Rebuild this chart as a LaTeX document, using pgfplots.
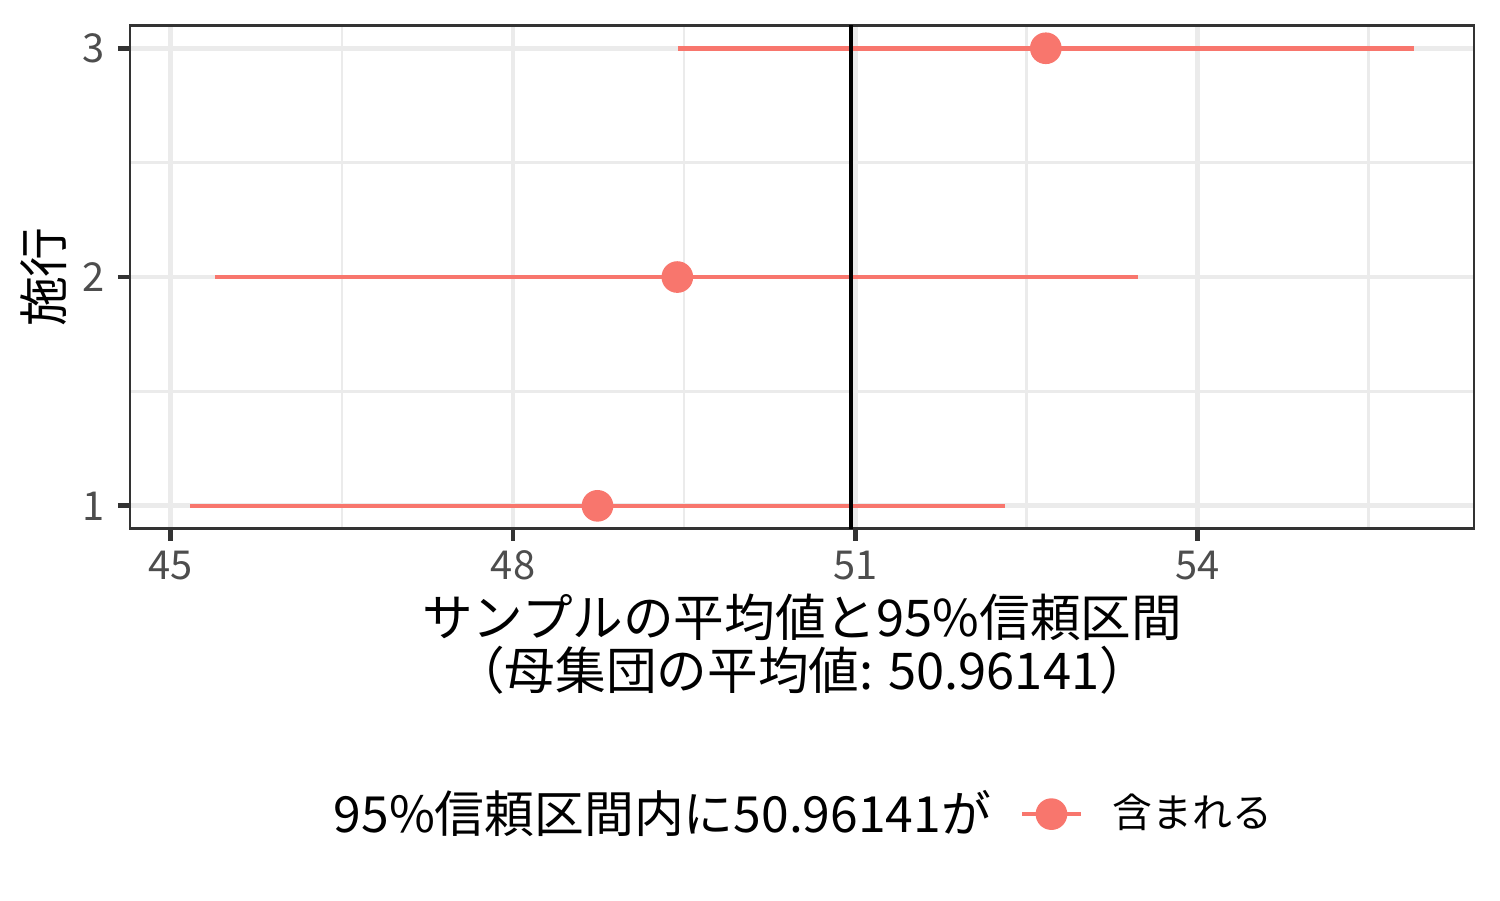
\documentclass[border=0pt]{standalone}
\usepackage{fontspec}
\setmainfont{Noto Sans CJK JP}
\usepackage{pgfplots}
\usepackage{pgfplotstable}
\pgfplotsset{compat=1.18}

\definecolor{ggred}{HTML}{F8766D}
\definecolor{gridgray}{HTML}{EBEBEB}
\definecolor{bordergray}{HTML}{333333}
\definecolor{labelgray}{HTML}{4D4D4D}

% trial, sample mean, lower / upper end of the 95% CI
\pgfplotstableread{
trial mean  lower upper
1     48.74 45.17 52.31
2     49.44 45.39 53.48
3     52.67 49.45 55.90
}\ci

\begin{document}
\begin{tikzpicture}
\begin{axis}[
  scale only axis,
  width=322.6bp, height=120.8bp,
  xmin=44.642, xmax=56.425,
  ymin=0.9, ymax=3.1,
  xtick={45,48,51,54}, ytick={1,2,3},
  minor xtick={46.5,49.5,52.5,55.5}, minor ytick={1.5,2.5},
  grid=both,
  major grid style={color=gridgray, line width=1.15bp},
  minor grid style={color=gridgray, line width=0.58bp},
  axis line style={color=bordergray, line width=0.6bp},
  tick align=outside, xtick pos=bottom, ytick pos=left,
  major tick length=2.9bp, minor tick length=0pt,
  major tick style={color=bordergray, line width=1.15bp},
  /pgf/number format/assume math mode=true,
  ticklabel style={font=\fontsize{9.6}{11}\selectfont, color=labelgray, inner sep=0pt},
  xticklabel style={anchor=base, yshift=-9.4bp},
  yticklabel style={anchor=east, xshift=-2.9bp},
  legend style={at={(axis description cs:0,0)}, anchor=west,
    xshift=213.4bp, yshift=-68.5bp, draw=none, fill=none, inner sep=0pt,
    nodes={inner sep=0pt, font=\fontsize{9.6}{11}\selectfont},
    column sep=7.2bp},
  legend image code/.code={
    \draw[line width=1.1bp, color=ggred] (0bp,0bp) -- (14bp,0bp);
    \fill[ggred] (7bp,0bp) circle (3.6bp);},
  clip mode=individual,
]
\addplot[only marks, mark=*, mark size=3.6bp, color=ggred,
  mark options={draw=none, fill=ggred},
  error bars/.cd, x dir=both, x explicit, error mark=none,
  error bar style={line width=1.1bp, color=ggred}]
  table[x=mean, y=trial,
    x error plus expr=\thisrow{upper}-\thisrow{mean},
    x error minus expr=\thisrow{mean}-\thisrow{lower}] {\ci};
\addlegendentry{含まれる}
\addplot[black, line width=1.15bp, forget plot]
  coordinates {(50.96141,0.9) (50.96141,3.1)};

\node[anchor=base, inner sep=0pt, font=\fontsize{12.2}{13}\selectfont]
  at (rel axis cs:0.5,0) [yshift=-25.9bp] {サンプルの平均値と95\%信頼区間};
\node[anchor=base, inner sep=0pt, font=\fontsize{12.2}{13}\selectfont]
  at (rel axis cs:0.5,0) [yshift=-38.6bp] {（母集団の平均値: 50.96141）};
\node[anchor=base, rotate=90, inner sep=0pt, font=\fontsize{12}{13}\selectfont]
  at (rel axis cs:0,0.5) [yshift=16.2bp] {施行};
\node[anchor=base west, inner sep=0pt, font=\fontsize{12}{13}\selectfont]
  at (rel axis cs:0,0) [xshift=48.7bp, yshift=-73bp] {95\%信頼区間内に50.96141が};
\end{axis}
\path[use as bounding box] (-31.2bp,-89.11bp) rectangle (328.8bp,126.89bp);
\end{tikzpicture}
\end{document}
